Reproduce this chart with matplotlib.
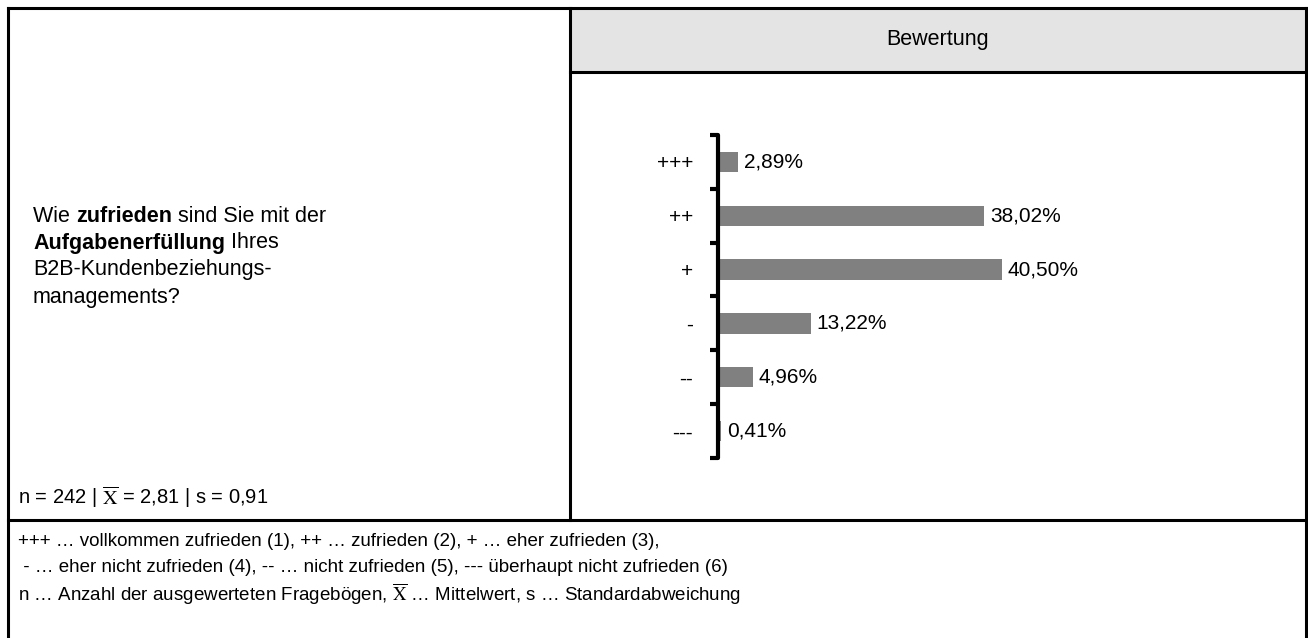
import numpy as np
import matplotlib
matplotlib.use("Agg")
import matplotlib.pyplot as plt

plt.rcParams['font.family'] = ['Liberation Sans', 'DejaVu Sans']
plt.rcParams['mathtext.fontset'] = 'stix'

# data
categories = ['+++', '++', '+', '-', '--', '---']
shares = [2.89, 38.02, 40.50, 13.22, 4.96, 0.41]
n_total = 242
mean_val = '2,81'
std_val = '0,91'

header = 'Bewertung'
question = [
    [('Wie ', 'normal'), ('zufrieden', 'bold'), (' sind Sie mit der', 'normal')],
    [('Aufgabenerfüllung', 'bold'), (' Ihres', 'normal')],
    [('B2B-Kundenbeziehungs-', 'normal')],
    [('managements?', 'normal')],
]
footer = [
    '+++ … vollkommen zufrieden (1), ++ … zufrieden (2), + … eher zufrieden (3),',
    ' - … eher nicht zufrieden (4), -- … nicht zufrieden (5), --- überhaupt nicht zufrieden (6)',
    r'n … Anzahl der ausgewerteten Fragebögen, $\overline{\mathrm{X}}$ … Mittelwert, s … Standardabweichung',
]

W, H = 1308, 638
fig = plt.figure(figsize=(W / 100, H / 100), dpi=100)

# background canvas in pixel coordinates (y downwards)
bg = fig.add_axes([0, 0, 1, 1])
bg.set_xlim(0, W)
bg.set_ylim(H, 0)
bg.axis('off')

lw = 2.2
x_left, x_mid, x_right = 7.5, 570, 1306
y_top, y_head, y_foot = 7.5, 72, 520

bg.fill_between([x_mid, x_right], y_top, y_head, color='#e4e4e4', zorder=0)
bg.plot([x_left, x_right], [y_top, y_top], color='black', lw=lw)
bg.plot([x_left, x_left], [y_top, H], color='black', lw=lw)
bg.plot([x_right, x_right], [y_top, H], color='black', lw=lw)
bg.plot([x_mid, x_mid], [y_top, y_foot], color='black', lw=lw)
bg.plot([x_mid, x_right], [y_head, y_head], color='black', lw=lw)
bg.plot([x_left, x_right], [y_foot, y_foot], color='black', lw=lw)

bg.text((x_mid + x_right) / 2, 40, header, ha='center', va='center', fontsize=15.5)

# question with bold parts
renderer = fig.canvas.get_renderer()
for i, line in enumerate(question):
    x = 33
    y = 216 + i * 27
    for s, w in line:
        t = bg.text(x, y, s, fontweight=w, fontsize=15.5, va='center', ha='left')
        x += t.get_window_extent(renderer=renderer).width

bg.text(18, 497, rf'n = {n_total} | $\overline{{\mathrm{{X}}}}$ = {mean_val} | s = {std_val}',
        fontsize=14.5, va='center', ha='left')

for i, line in enumerate(footer):
    bg.text(18, 541 + i * 26.5, line, fontsize=13.5, va='center', ha='left')

# bar chart
px_per_pct = 7
ax = fig.add_axes([718 / W, 1 - 458 / H, 60 * px_per_pct / W, (458 - 135) / H])
ax.set_facecolor('none')
y = np.arange(len(categories))
ax.barh(y, shares, height=0.38, color='#808080')
ax.set_xlim(0, 60)
ax.set_ylim(len(categories) - 0.5, -0.5)
for spine in ['top', 'right', 'bottom']:
    ax.spines[spine].set_visible(False)
ax.spines['left'].set_linewidth(3)
ax.spines['left'].set_capstyle('round')
ax.set_xticks([])
ax.set_yticks(y)
ax.set_yticklabels(categories, fontsize=15)
ax.set_yticks(np.arange(len(categories) + 1) - 0.5, minor=True)
ax.tick_params(axis='y', which='major', length=0, pad=18)
ax.tick_params(axis='y', which='minor', length=6, width=3, color='black')

for yi, v in zip(y, shares):
    ax.annotate(f'{v:.2f}'.replace('.', ',') + '%', (v, yi), xytext=(4.5, 0),
                textcoords='offset points', va='center', ha='left', fontsize=15)

fig.savefig('out.png', dpi=100)
